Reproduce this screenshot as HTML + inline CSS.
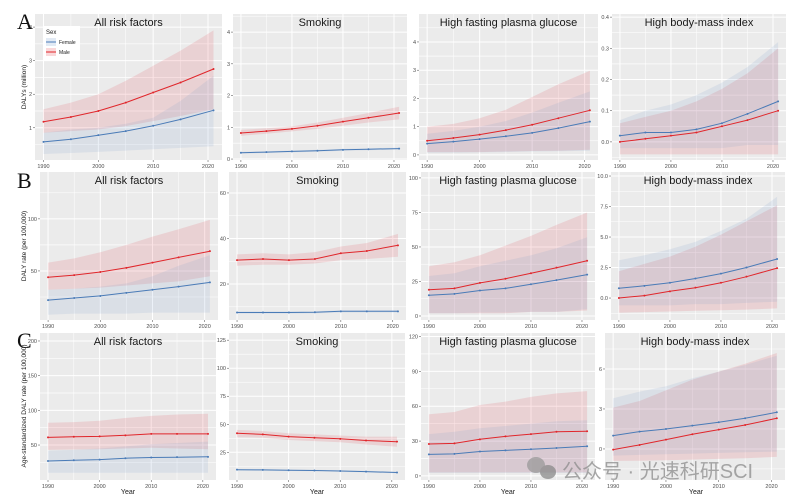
<!DOCTYPE html>
<html><head><meta charset="utf-8"><style>
html,body{margin:0;padding:0;background:#fff;}
svg{display:block;font-family:"Liberation Sans",Arial,sans-serif;}
</style></head><body>
<svg id="fig" width="804" height="503" viewBox="0 0 804 503" xmlns="http://www.w3.org/2000/svg"></svg>
<script>
const years = [1990,1995,2000,2005,2010,2015,2021];
const titles = ["All risk factors","Smoking","High fasting plasma glucose","High body-mass index"];
// Row A
const a1Male=[1.18,1.32,1.5,1.75,2.05,2.35,2.75], a1MaleLo=[0.85,0.9,0.95,1.05,1.2,1.35,1.55], a1MaleHi=[1.55,1.75,2.0,2.4,2.85,3.3,3.9];
const a1Fem=[0.58,0.66,0.78,0.9,1.06,1.25,1.52], a1FemLo=[0.22,0.25,0.28,0.32,0.36,0.4,0.45], a1FemHi=[0.85,0.95,1.0,1.12,1.3,1.8,2.55];
const a2Male=[0.82,0.88,0.95,1.05,1.18,1.3,1.45], a2MaleLo=[0.73,0.8,0.87,0.95,1.05,1.15,1.25], a2MaleHi=[0.92,0.97,1.03,1.15,1.3,1.45,1.65];
const a2Fem=[0.2,0.22,0.24,0.26,0.29,0.31,0.33], a2FemLo=[0.17,0.19,0.21,0.23,0.26,0.28,0.3], a2FemHi=[0.23,0.25,0.27,0.29,0.32,0.34,0.36];
const a3Male=[0.5,0.6,0.72,0.88,1.07,1.3,1.58], a3MaleLo=[0.1,0.1,0.1,0.12,0.14,0.15,0.18], a3MaleHi=[1.0,1.1,1.3,1.6,2.05,2.5,2.98];
const a3Fem=[0.4,0.47,0.56,0.66,0.78,0.95,1.18], a3FemLo=[0.08,0.08,0.09,0.1,0.12,0.13,0.15], a3FemHi=[0.75,0.85,1.0,1.2,1.5,1.85,2.25];
const a4Male=[0,0.01,0.02,0.03,0.05,0.07,0.1], a4MaleLo=[-0.04,-0.04,-0.04,-0.04,-0.04,-0.04,-0.04], a4MaleHi=[0.06,0.08,0.1,0.13,0.17,0.22,0.3];
const a4Fem=[0.02,0.03,0.03,0.04,0.06,0.09,0.13], a4FemLo=[-0.02,-0.02,-0.02,-0.02,-0.02,-0.01,-0.01], a4FemHi=[0.07,0.1,0.12,0.15,0.19,0.24,0.32];
// Row B
const b1Male=[44,46,49,53,58,63,69], b1MaleLo=[32,33,34,36,38,40,45], b1MaleHi=[58,62,68,75,83,90,99];
const b1Fem=[22,24,26,29,32,35,39], b1FemLo=[8,9,9,9,10,10,10], b1FemHi=[32,33,35,38,45,55,65];
const b2Male=[30.5,31,30.5,31,33.5,34.5,37], b2MaleLo=[28,28.5,28.5,29,30.5,31,32], b2MaleHi=[33,33.5,33,34,36.5,38,42];
const b2Fem=[7.5,7.5,7.5,7.6,8,8,8], b2FemLo=[7,7,7,7.1,7.5,7.5,7.5], b2FemHi=[8,8,8,8.1,8.5,8.5,8.5];
const b3Male=[19,20,24,27,31,35,40], b3MaleLo=[2,2,2,2,3,3,4], b3MaleHi=[36,39,44,51,58,66,75];
const b3Fem=[15,16,18.5,20,23,26,30], b3FemLo=[2,2,2.5,2.5,3,3,5], b3FemHi=[29,31,36,40,44,49,57];
const b4Male=[0,0.2,0.55,0.85,1.25,1.75,2.45], b4MaleLo=[-1.2,-1.15,-1.1,-1.05,-1.0,-0.95,-0.85], b4MaleHi=[2.2,2.8,3.4,4.2,5.2,6.3,7.6];
const b4Fem=[0.8,1.0,1.25,1.6,2.0,2.5,3.2], b4FemLo=[-0.6,-0.6,-0.6,-0.5,-0.5,-0.4,-0.3], b4FemHi=[3.1,3.5,4.0,4.6,5.5,6.5,8.3];
// Row C
const c1Male=[61,62,62.5,64,66,66,66], c1MaleLo=[43,43.5,44,45,46,45,44], c1MaleHi=[82,83,85,89,92,94,95];
const c1Fem=[27,28,29,31,32,32.5,33], c1FemLo=[10,10,10,10,10,10,10], c1FemHi=[42,43,45,48,51,53,55];
const c2Male=[42,41,39,38,37,35.5,34.5], c2MaleLo=[38.5,38,36,35,34,32,30], c2MaleHi=[45,44,42,41,40,39,39];
const c2Fem=[9.5,9.3,9,8.8,8.3,7.8,7], c2FemLo=[8.8,8.6,8.3,8.1,7.6,7.1,6.3], c2FemHi=[10.2,10,9.7,9.5,9,8.5,7.7];
const c3Male=[27.5,28,31.5,34,36,38,38.5], c3MaleLo=[3,3,3,3,3,3,3], c3MaleHi=[53,55,61,64,68,71,73];
const c3Fem=[18.5,19,21,22,23,24,25.5], c3FemLo=[2.5,2.5,2.5,2.5,2.5,2.5,2.5], c3FemHi=[36,38,41,43,45,47,48];
const c4Male=[-0.05,0.3,0.7,1.1,1.45,1.8,2.3], c4MaleLo=[-0.9,-0.88,-0.85,-0.8,-0.75,-0.7,-0.6], c4MaleHi=[3.1,3.6,4.4,5.2,5.8,6.4,7.2];
const c4Fem=[1.0,1.3,1.5,1.75,2.0,2.3,2.75], c4FemLo=[-0.5,-0.45,-0.4,-0.35,-0.3,-0.25,-0.2], c4FemHi=[3.8,4.3,4.7,5.3,5.8,6.3,7.0];
const yTicksA=[[1,2,3,4],[0,1,2,3,4],[0,1,2,3,4],[0,0.1,0.2,0.3,0.4]];
const yTickLabelsA=[["1","2","3","4"],["0","1","2","3","4"],["0","1","2","3","4"],["0.0","0.1","0.2","0.3","0.4"]];
const yTicksB=[[50,100],[20,40,60],[0,25,50,75,100],[0,2.5,5,7.5,10]];
const yTickLabelsB=[["50","100"],["20","40","60"],["0","25","50","75","100"],["0.0","2.5","5.0","7.5","10.0"]];
const yTicksC=[[50,100,150,200],[25,50,75,100,125],[0,30,60,90,120],[0,3,6]];
const yTickLabelsC=[["50","100","150","200"],["25","50","75","100","125"],["0","30","60","90","120"],["0","3","6"]];
const xTicks=[1990,2000,2010,2020];

const NS="http://www.w3.org/2000/svg";
const svg=document.getElementById('fig');
function mk(tag,attrs,parent,text){const e=document.createElementNS(NS,tag);for(const k in attrs)e.setAttribute(k,attrs[k]);if(text!==undefined)e.textContent=text;(parent||svg).appendChild(e);return e;}

const panels=[
 {id:'a1',x0:35,x1:222,y0:14,y1:160,d:[0.04,4.39],t:0,ticks:yTicksA[0],tl:yTickLabelsA[0],m:[a1Male,a1MaleLo,a1MaleHi],f:[a1Fem,a1FemLo,a1FemHi]},
 {id:'a2',x0:233,x1:407,y0:14,y1:160,d:[-0.03,4.57],t:1,ticks:yTicksA[1],tl:yTickLabelsA[1],m:[a2Male,a2MaleLo,a2MaleHi],f:[a2Fem,a2FemLo,a2FemHi]},
 {id:'a3',x0:419,x1:598,y0:14,y1:160,d:[-0.18,4.99],t:2,ticks:yTicksA[2],tl:yTickLabelsA[2],m:[a3Male,a3MaleLo,a3MaleHi],f:[a3Fem,a3FemLo,a3FemHi]},
 {id:'a4',x0:612,x1:786,y0:14,y1:160,d:[-0.058,0.41],t:3,ticks:yTicksA[3],tl:yTickLabelsA[3],m:[a4Male,a4MaleLo,a4MaleHi],f:[a4Fem,a4FemLo,a4FemHi]},
 {id:'b1',x0:40,x1:218,y0:172,y1:320,d:[2.9,145],t:0,ticks:yTicksB[0],tl:yTickLabelsB[0],m:[b1Male,b1MaleLo,b1MaleHi],f:[b1Fem,b1FemLo,b1FemHi]},
 {id:'b2',x0:229,x1:406,y0:172,y1:320,d:[4.2,69.2],t:1,ticks:yTicksB[1],tl:yTickLabelsB[1],m:[b2Male,b2MaleLo,b2MaleHi],f:[b2Fem,b2FemLo,b2FemHi]},
 {id:'b3',x0:421,x1:595,y0:172,y1:320,d:[-2.9,104.3],t:2,ticks:yTicksB[2],tl:yTickLabelsB[2],m:[b3Male,b3MaleLo,b3MaleHi],f:[b3Fem,b3FemLo,b3FemHi]},
 {id:'b4',x0:611,x1:785,y0:172,y1:320,d:[-1.8,10.33],t:3,ticks:yTicksB[3],tl:yTickLabelsB[3],m:[b4Male,b4MaleLo,b4MaleHi],f:[b4Fem,b4FemLo,b4FemHi]},
 {id:'c1',x0:40,x1:216,y0:333,y1:480,d:[-0.4,211.5],t:0,ticks:yTicksC[0],tl:yTickLabelsC[0],m:[c1Male,c1MaleLo,c1MaleHi],f:[c1Fem,c1FemLo,c1FemHi]},
 {id:'c2',x0:229,x1:405,y0:333,y1:480,d:[0.3,131.4],t:1,ticks:yTicksC[1],tl:yTickLabelsC[1],m:[c2Male,c2MaleLo,c2MaleHi],f:[c2Fem,c2FemLo,c2FemHi]},
 {id:'c3',x0:421,x1:595,y0:333,y1:480,d:[-3.5,123],t:2,ticks:yTicksC[2],tl:yTickLabelsC[2],m:[c3Male,c3MaleLo,c3MaleHi],f:[c3Fem,c3FemLo,c3FemHi]},
 {id:'c4',x0:605,x1:785,y0:333,y1:480,d:[-2.33,8.7],t:3,ticks:yTicksC[3],tl:yTickLabelsC[3],m:[c4Male,c4MaleLo,c4MaleHi],f:[c4Fem,c4FemLo,c4FemHi]}
];
const XMIN=1988.45, XMAX=2022.55;
const RED='#e0262b', BLUE='#4a7bb7';

panels.forEach(p=>{
  const g=mk('g',{});
  
  
  const xs=v=>p.x0+(v-XMIN)/(XMAX-XMIN)*(p.x1-p.x0);
  const ys=v=>p.y1-(v-p.d[0])/(p.d[1]-p.d[0])*(p.y1-p.y0);
  const bg=mk('rect',{x:p.x0,y:p.y0,width:p.x1-p.x0,height:p.y1-p.y0,fill:'#ebebeb'},g);
  
  
  // minor grid
  [1995,2005,2015].forEach(v=>mk('line',{x1:xs(v),x2:xs(v),y1:p.y0,y2:p.y1,stroke:'#fff','stroke-width':0.5},g));
  for(let i=0;i<p.ticks.length;i++){
    const step=p.ticks.length>1?p.ticks[1]-p.ticks[0]:0;
    [p.ticks[i]-step/2,p.ticks[i]+step/2].forEach(v=>{if(v>p.d[0]&&v<p.d[1])mk('line',{x1:p.x0,x2:p.x1,y1:ys(v),y2:ys(v),stroke:'#fff','stroke-width':0.5},g);});
  }
  xTicks.forEach(v=>mk('line',{x1:xs(v),x2:xs(v),y1:p.y0,y2:p.y1,stroke:'#fff','stroke-width':1},g));
  p.ticks.forEach((v,i)=>{
    mk('line',{x1:p.x0,x2:p.x1,y1:ys(v),y2:ys(v),stroke:'#fff','stroke-width':1},g);
    mk('line',{x1:p.x0-2,x2:p.x0,y1:ys(v),y2:ys(v),stroke:'#444','stroke-width':0.5},g);
    const t=mk('text',{x:p.x0-3,y:ys(v)+2,'font-size':5.5,fill:'#4d4d4d','text-anchor':'end'},g,p.tl[i]);
    
    
  });
  xTicks.forEach(v=>{
    mk('line',{x1:xs(v),x2:xs(v),y1:p.y1,y2:p.y1+2,stroke:'#444','stroke-width':0.5},g);
    const t=mk('text',{x:xs(v),y:p.y1+8,'font-size':5.5,fill:'#4d4d4d','text-anchor':'middle'},g,String(v));
    
    
  });
  // bands
  [[p.m,'rgba(228,60,70,0.14)','male'],[p.f,'rgba(110,150,200,0.13)','female']].forEach(([s,c,nm])=>{
    let d='';
    years.forEach((y,i)=>{d+=(i?'L':'M')+xs(y).toFixed(1)+','+ys(s[2][i]).toFixed(1);});
    for(let i=years.length-1;i>=0;i--)d+='L'+xs(years[i]).toFixed(1)+','+ys(s[1][i]).toFixed(1);
    const b=mk('path',{d:d+'Z',fill:c},g);
    
    
  });
  [[p.f,BLUE,'female'],[p.m,RED,'male']].forEach(([s,c,nm])=>{
    const pts=years.map((y,i)=>xs(y).toFixed(1)+','+ys(s[0][i]).toFixed(1)).join(' ');
    const l=mk('polyline',{points:pts,fill:'none',stroke:c,'stroke-width':1},g);
    
    
    years.forEach((y,i)=>{
      const pt=mk('circle',{cx:xs(y),cy:ys(s[0][i]),r:1,fill:c},g);
      
      
    });
  });
  const tt=mk('text',{x:(p.x0+p.x1)/2,y:p.y0+12,'font-size':11,fill:'#1a1a1a','text-anchor':'middle'},g,titles[p.t]);
  
  
});
</script>
<svg width="804" height="503" viewBox="0 0 804 503" style="position:absolute;left:0;top:0" font-family="Liberation Sans, Arial, sans-serif">
  <g>
    <rect x="43" y="26" width="37" height="35" fill="#fff"/>
    <text x="46" y="34" font-size="6" fill="#1a1a1a">Sex</text>
    <rect x="46" y="38" width="10" height="8" fill="rgba(110,150,200,0.2)"/>
    <line x1="46" x2="56" y1="42" y2="42" stroke="#4a7bb7" stroke-width="1"/>
    <text x="59" y="44" font-size="5" fill="#1a1a1a">Female</text>
    <rect x="46" y="48" width="10" height="8" fill="rgba(228,60,70,0.2)"/>
    <line x1="46" x2="56" y1="52" y2="52" stroke="#e0262b" stroke-width="1"/>
    <text x="59" y="54" font-size="5" fill="#1a1a1a">Male</text>
  </g>
  <text x="17" y="29" font-family="Liberation Serif, serif" font-size="22" fill="#111">A</text>
  <text x="17" y="188" font-family="Liberation Serif, serif" font-size="22" fill="#111">B</text>
  <text x="17" y="348" font-family="Liberation Serif, serif" font-size="22" fill="#111">C</text>
  <text transform="translate(26,87) rotate(-90)" font-size="6.5" fill="#1a1a1a" text-anchor="middle">DALYs (million)</text>
  <text transform="translate(26,246) rotate(-90)" font-size="6.5" fill="#1a1a1a" text-anchor="middle">DALY  rate (per 100,000)</text>
  <text transform="translate(26,406) rotate(-90)" font-size="6.5" fill="#1a1a1a" text-anchor="middle">Age-standardized DALY  rate (per 100,000)</text>
  <text x="128" y="494" font-size="7" fill="#1a1a1a" text-anchor="middle">Year</text>
  <text x="317" y="494" font-size="7" fill="#1a1a1a" text-anchor="middle">Year</text>
  <text x="508" y="494" font-size="7" fill="#1a1a1a" text-anchor="middle">Year</text>
  <text x="696" y="494" font-size="7" fill="#1a1a1a" text-anchor="middle">Year</text>
  <g opacity="0.75">
    <ellipse cx="536" cy="465" rx="9" ry="8" fill="#9a9a9a"/>
    <ellipse cx="548" cy="472" rx="8" ry="7" fill="#8a8a8a"/>
    <text x="562" y="478" font-family="Liberation Sans, Noto Sans CJK SC, sans-serif" font-size="20" fill="#8c8c8c">公众号 · 光速科研SCI</text>
  </g>
</svg>
</body></html>
